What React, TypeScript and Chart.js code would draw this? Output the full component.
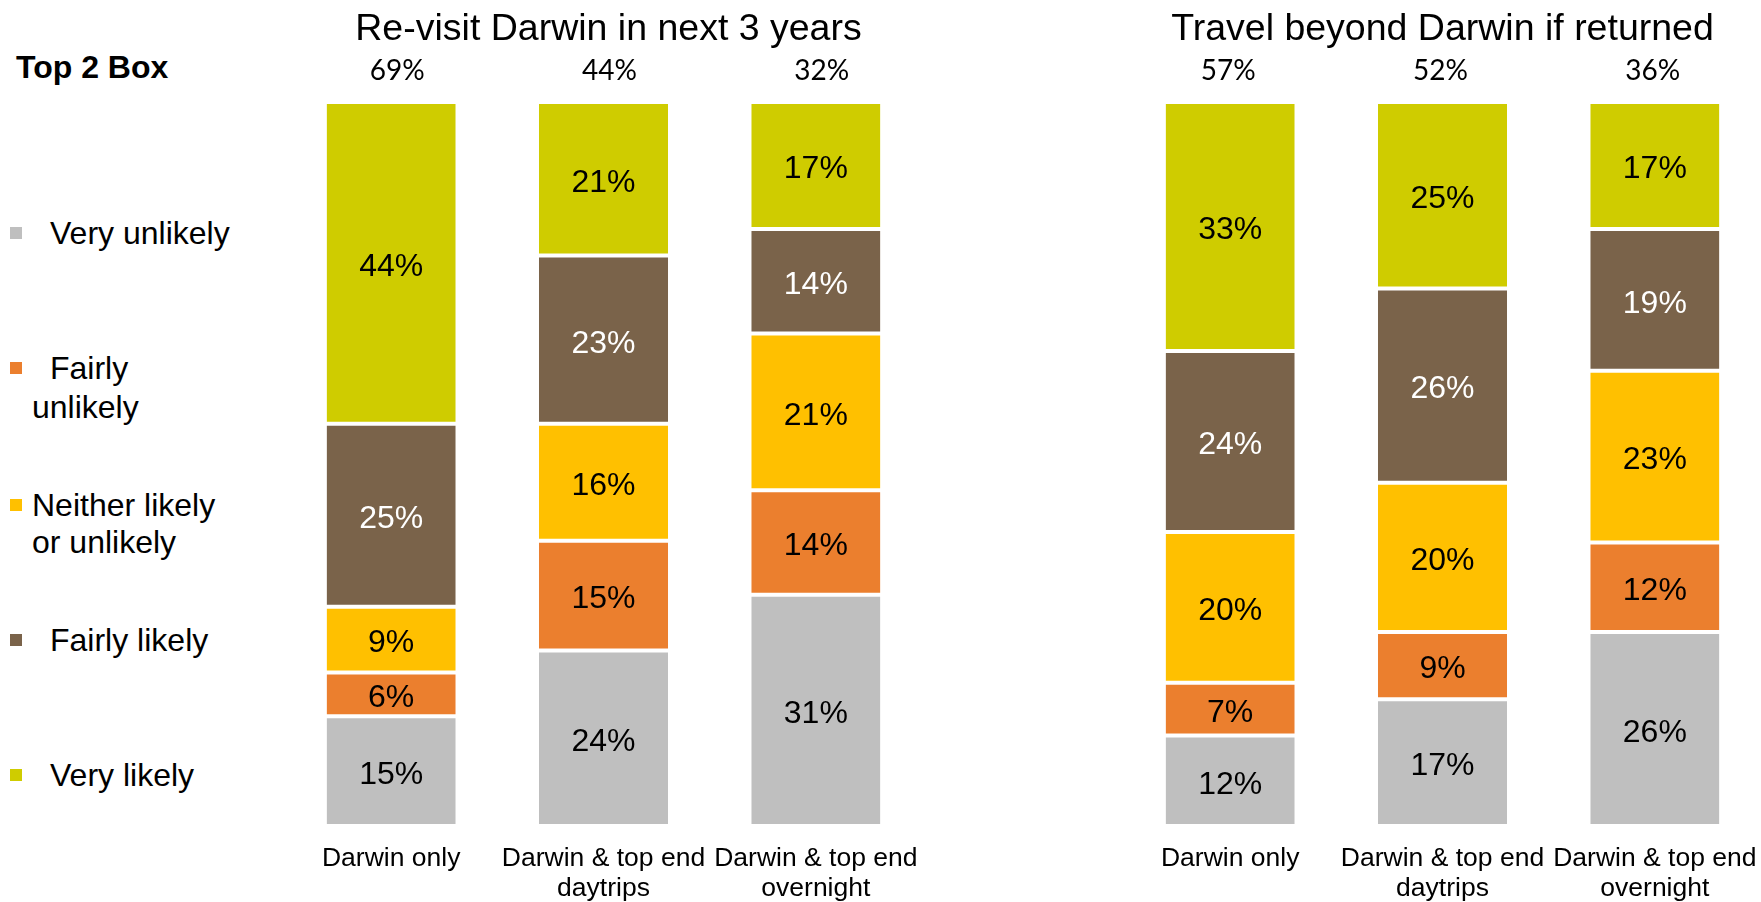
import React, { useEffect, useRef } from "react";
import { Chart, registerables } from "chart.js";

Chart.register(...registerables);

// ---------- data ----------
const categories: string[][] = [
  ["Darwin only"],
  ["Darwin & top end", "daytrips"],
  ["Darwin & top end", "overnight"],
];

const seriesNames = [
  "Very unlikely",
  "Fairly unlikely",
  "Neither likely or unlikely",
  "Fairly likely",
  "Very likely",
];
const seriesColors = ["#BFBFBF", "#EB7F2E", "#FFC000", "#7A634A", "#CFCC00"];
const seriesLabelColors = ["#000000", "#000000", "#000000", "#FFFFFF", "#000000"];

// Re-visit Darwin in next 3 years
const revisitVeryUnlikely = [15, 24, 31];
const revisitFairlyUnlikely = [6, 15, 14];
const revisitNeither = [9, 16, 21];
const revisitFairlyLikely = [25, 23, 14];
const revisitVeryLikely = [44, 21, 17];
const revisitTop2 = [69, 44, 32];

// Travel beyond Darwin if returned
const travelVeryUnlikely = [12, 17, 26];
const travelFairlyUnlikely = [7, 9, 12];
const travelNeither = [20, 20, 23];
const travelFairlyLikely = [24, 26, 19];
const travelVeryLikely = [33, 25, 17];
const travelTop2 = [57, 52, 36];

const legendLines: string[][] = [
  ["Very unlikely"],
  ["Fairly", "unlikely"],
  ["Neither likely", "or unlikely"],
  ["Fairly likely"],
  ["Very likely"],
];
const legendIndented = [true, true, false, true, true];

const FONT = '"Liberation Sans", Arial, Helvetica, sans-serif';
const NUM_FONT = 'Lato, "Liberation Sans", sans-serif';

// ---------- plugin ----------
const segLabels = {
  id: "segLabels",
  afterDatasetsDraw(chart: any, _args: any, opts: any) {
    const ctx = chart.ctx;
    const area = chart.chartArea;
    ctx.save();
    ctx.textAlign = "center";
    ctx.textBaseline = "middle";
    // title
    ctx.font = `37.5px ${FONT}`;
    ctx.fillStyle = "#000000";
    ctx.fillText(opts.title, (area.left + area.right) / 2 + (opts.titleShift || 0), 30);
    // segment values
    ctx.font = `32px ${FONT}`;
    chart.data.datasets.forEach((ds: any, k: number) => {
      const meta = chart.getDatasetMeta(k);
      meta.data.forEach((el: any, i: number) => {
        const p = el.getProps(["x", "y", "base"], true);
        ctx.fillStyle = seriesLabelColors[k];
        ctx.fillText(`${ds.raw[i]}%`, p.x, (p.y + p.base) / 2 + 4);
      });
    });
    // top 2 box values
    const top2: number[] = opts.top2 || [];
    const xScale = chart.scales.x;
    ctx.font = `28px ${NUM_FONT}`;
    ctx.fillStyle = "#000000";
    top2.forEach((v, i) => {
      ctx.fillText(`${v}%`, xScale.getPixelForValue(i) + (opts.top2Shift || 0), area.top - 31);
    });
    ctx.restore();
  },
};

function buildConfig(title: string, series: number[][], top2: number[], titleShift: number, top2Shift: number) {
  const totals = categories.map((_, i) => series.reduce((s, arr) => s + arr[i], 0));
  const datasets = series.map((arr, k) => ({
    label: seriesNames[k],
    data: arr.map((v, i) => (v / totals[i]) * 100),
    raw: arr,
    backgroundColor: seriesColors[k],
    borderColor: "#FFFFFF",
    borderWidth: { top: 2, bottom: 2, left: 0, right: 0 },
    borderSkipped: false,
    barPercentage: 0.608,
    categoryPercentage: 1,
  }));
  return {
    type: "bar" as const,
    data: { labels: categories, datasets },
    plugins: [segLabels],
    options: {
      responsive: false,
      animation: false as const,
      layout: { padding: { left: 0, right: 0, top: 102, bottom: 0 } },
      plugins: {
        legend: { display: false },
        tooltip: { enabled: false },
        title: { display: false },
        segLabels: { top2, title, titleShift, top2Shift },
      },
      scales: {
        x: {
          stacked: true,
          grid: { display: false, drawTicks: true, tickLength: 17 },
          border: { display: false },
          ticks: {
            color: "#000000",
            padding: 0,
            maxRotation: 0,
            autoSkip: false,
            font: { family: FONT, size: 26.5, lineHeight: 1.15 },
          },
        },
        y: {
          stacked: true,
          display: false,
          min: 0,
          max: 100,
        },
      },
    },
  };
}

const CANVAS_H = 904;

function Panel(props: {
  left: number;
  title: string;
  series: number[][];
  top2: number[];
  titleShift: number;
  top2Shift: number;
}) {
  const ref = useRef<HTMLCanvasElement | null>(null);
  useEffect(() => {
    if (!ref.current) return;
    const chart = new Chart(
      ref.current,
      buildConfig(props.title, props.series, props.top2, props.titleShift, props.top2Shift) as any
    );
    return () => chart.destroy();
  }, []);
  return (
    <canvas
      ref={ref}
      width={637}
      height={CANVAS_H}
      style={{ position: "absolute", left: props.left, top: 0, width: 637, height: CANVAS_H }}
    />
  );
}

const legendCenters = [[233], [368, 407], [505, 542], [640], [775]];

export default function App() {
  return (
    <div
      style={{
        position: "fixed",
        left: 0,
        top: 0,
        width: 1761,
        height: 902,
        background: "#FFFFFF",
        overflow: "hidden",
        fontFamily: FONT,
      }}
    >
      <div
        style={{
          position: "absolute",
          left: 16,
          top: 67 - 19,
          height: 38,
          lineHeight: "38px",
          fontSize: 32,
          fontWeight: "bold",
          color: "#000",
          whiteSpace: "nowrap",
        }}
      >
        Top 2 Box
      </div>
      {legendLines.map((lines, k) => (
        <React.Fragment key={k}>
          <div
            style={{
              position: "absolute",
              left: 10,
              top: legendCenters[k][0] - 6,
              width: 12,
              height: 12,
              background: seriesColors[k],
            }}
          />
          {lines.map((line, j) => (
            <div
              key={j}
              style={{
                position: "absolute",
                left: j === 0 && legendIndented[k] ? 50 : 32,
                top: legendCenters[k][j] - 19,
                height: 38,
                lineHeight: "38px",
                fontSize: 32,
                color: "#000",
                whiteSpace: "nowrap",
              }}
            >
              {line}
            </div>
          ))}
        </React.Fragment>
      ))}
      <Panel
        left={285}
        title="Re-visit Darwin in next 3 years"
        series={[revisitVeryUnlikely, revisitFairlyUnlikely, revisitNeither, revisitFairlyLikely, revisitVeryLikely]}
        top2={revisitTop2}
        titleShift={5}
        top2Shift={6}
      />
      <Panel
        left={1124}
        title="Travel beyond Darwin if returned"
        series={[travelVeryUnlikely, travelFairlyUnlikely, travelNeither, travelFairlyLikely, travelVeryLikely]}
        top2={travelTop2}
        titleShift={0}
        top2Shift={-2}
      />
    </div>
  );
}
